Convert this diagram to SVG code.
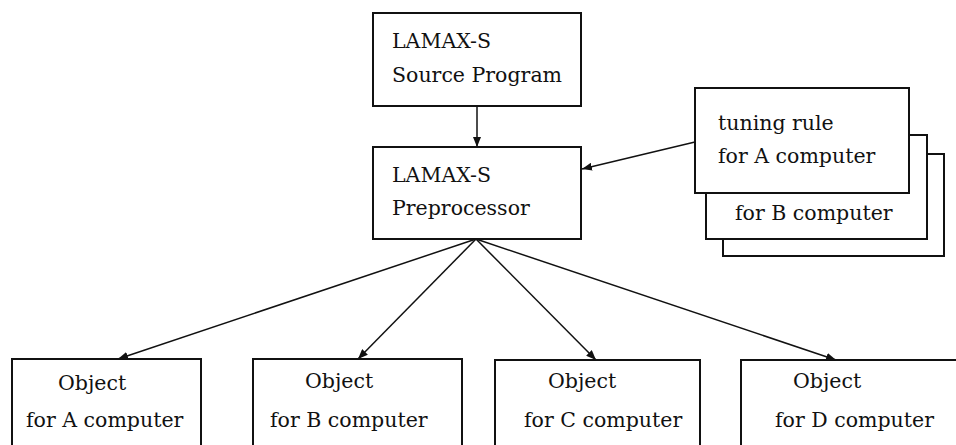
<svg xmlns="http://www.w3.org/2000/svg" width="956" height="445" viewBox="0 0 956 445">
<style>
.box{fill:#fff;stroke:#111;stroke-width:2}
.lbl{font-family:"DejaVu Serif","Liberation Serif",serif;font-size:20.5px;fill:#111}
.con{stroke:#111;stroke-width:1.5;fill:none}
</style>
<defs>
<marker id="ah" viewBox="0 0 10 8" refX="10" refY="4" markerWidth="10" markerHeight="8" markerUnits="userSpaceOnUse" orient="auto">
<path d="M0,0 L10,4 L0,8 Z" fill="#111"/>
</marker>
</defs>
<rect width="956" height="445" fill="#fff"/>
<g id="source">
<rect class="box" x="373" y="13" width="208" height="93"/>
<text class="lbl" x="392" y="48">LAMAX-S</text>
<text class="lbl" x="392" y="82">Source Program</text>
</g>
<g id="preprocessor">
<rect class="box" x="373" y="147" width="208" height="92"/>
<text class="lbl" x="392" y="182">LAMAX-S</text>
<text class="lbl" x="392" y="215">Preprocessor</text>
</g>
<g id="tuning">
<rect class="box" x="723" y="154" width="221" height="102"/>
<rect class="box" x="706" y="135" width="221" height="104"/>
<rect class="box" x="695" y="88" width="214" height="105"/>
<text class="lbl" x="718" y="130">tuning rule</text>
<text class="lbl" x="718" y="163">for A computer</text>
<text class="lbl" x="735" y="220">for B computer</text>
</g>
<g id="objA">
<rect class="box" x="12" y="359" width="189" height="100"/>
<text class="lbl" x="58" y="390">Object</text>
<text class="lbl" x="26" y="427">for A computer</text>
</g>
<g id="objB">
<rect class="box" x="253" y="359" width="209" height="100"/>
<text class="lbl" x="305" y="388">Object</text>
<text class="lbl" x="270" y="427">for B computer</text>
</g>
<g id="objC">
<rect class="box" x="495" y="360" width="205" height="100"/>
<text class="lbl" x="548" y="388">Object</text>
<text class="lbl" x="524" y="427">for C computer</text>
</g>
<g id="objD">
<rect class="box" x="741" y="360" width="230" height="100"/>
<text class="lbl" x="793" y="388">Object</text>
<text class="lbl" x="775" y="427">for D computer</text>
</g>
<g id="connectors">
<line class="con" x1="477" y1="106" x2="477" y2="147" marker-end="url(#ah)"/>
<line class="con" x1="695" y1="142" x2="582" y2="169" marker-end="url(#ah)"/>
<line class="con" x1="476" y1="239" x2="118" y2="359" marker-end="url(#ah)"/>
<line class="con" x1="476" y1="239" x2="358" y2="359" marker-end="url(#ah)"/>
<line class="con" x1="476" y1="239" x2="596" y2="360" marker-end="url(#ah)"/>
<line class="con" x1="476" y1="239" x2="836" y2="360" marker-end="url(#ah)"/>
</g>
</svg>
